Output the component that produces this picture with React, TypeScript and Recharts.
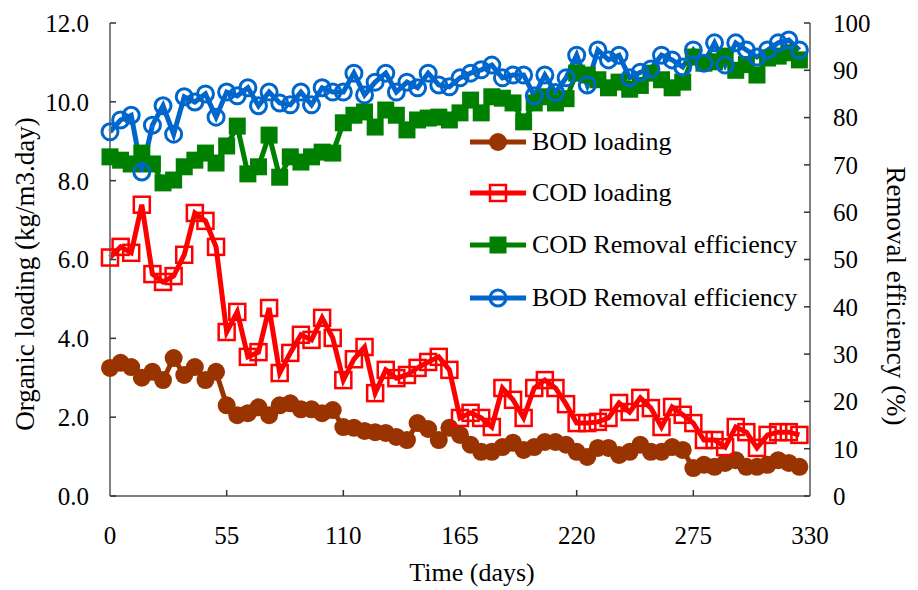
import { LineChart, Line, XAxis, YAxis, Legend } from "recharts";

// sampling days (every 5 days)
const days = [
  0, 5, 10, 15, 20, 25, 30, 35, 40, 45, 50, 55, 60, 65, 70, 75, 80, 85, 90, 95,
  100, 105, 110, 115, 120, 125, 130, 135, 140, 145, 150, 155, 160, 165, 170,
  175, 180, 185, 190, 195, 200, 205, 210, 215, 220, 225, 230, 235, 240, 245,
  250, 255, 260, 265, 270, 275, 280, 285, 290, 295, 300, 305, 310, 315, 320,
  325,
];

// kg/m3.day
const bodLoading = [
  3.25, 3.38, 3.27, 3.0, 3.15, 2.94, 3.5, 3.07, 3.27, 2.94, 3.15, 2.3, 2.05,
  2.1, 2.25, 2.05, 2.3, 2.35, 2.2, 2.2, 2.1, 2.18, 1.75, 1.73, 1.65, 1.62, 1.6,
  1.5, 1.42, 1.85, 1.7, 1.42, 1.73, 1.55, 1.3, 1.12, 1.12, 1.24, 1.35, 1.17,
  1.24, 1.37, 1.37, 1.3, 1.12, 0.99, 1.22, 1.22, 1.04, 1.12, 1.3, 1.12, 1.12,
  1.24, 1.17, 0.71, 0.79, 0.74, 0.84, 0.91, 0.74, 0.74, 0.79, 0.91, 0.84, 0.74,
];

const codLoading = [
  6.05, 6.32, 6.17, 7.39, 5.63, 5.43, 5.58, 6.12, 7.18, 6.98, 6.32, 4.16, 4.67,
  3.53, 3.65, 4.77, 3.12, 3.63, 4.09, 3.96, 4.52, 4.01, 2.94, 3.47, 3.78, 2.61,
  3.2, 2.99, 3.07, 3.25, 3.4, 3.53, 3.2, 1.98, 2.11, 1.98, 1.75, 2.74, 2.44,
  1.98, 2.74, 2.94, 2.74, 2.33, 1.85, 1.85, 1.88, 1.98, 2.36, 2.13, 2.49, 2.23,
  1.75, 2.26, 2.06, 1.85, 1.42, 1.42, 1.24, 1.75, 1.62, 1.22, 1.55, 1.62, 1.62,
  1.55,
];

// %
const codRemoval = [
  71.7, 71.0, 70.2, 72.5, 70.2, 66.2, 66.8, 69.6, 71.0, 72.5, 70.4, 74.0, 78.2,
  68.1, 69.6, 76.3, 67.4, 71.7, 70.6, 71.7, 72.7, 72.5, 78.9, 80.5, 81.2, 78.0,
  81.6, 80.5, 77.4, 79.5, 79.9, 80.1, 79.5, 81.0, 83.7, 81.0, 84.4, 84.1, 83.1,
  79.1, 83.1, 84.4, 83.1, 84.0, 89.4, 89.0, 88.0, 86.3, 87.5, 86.0, 86.8, 89.4,
  88.0, 86.3, 87.5, 92.8, 91.5, 91.8, 93.0, 90.0, 91.2, 89.0, 92.6, 93.0, 93.7,
  92.2,
];

const bodRemoval = [
  77.0, 79.5, 80.5, 68.5, 78.4, 82.5, 76.5, 84.4, 83.3, 85.0, 80.1, 85.4, 84.6,
  86.3, 82.5, 85.4, 83.1, 82.7, 85.4, 82.7, 86.3, 85.4, 85.4, 89.4, 84.8, 87.5,
  89.4, 85.4, 87.5, 86.3, 89.4, 86.9, 86.5, 88.4, 89.4, 90.1, 91.1, 88.4, 89.0,
  89.0, 84.6, 89.0, 85.3, 88.4, 93.2, 86.9, 94.3, 92.2, 93.2, 88.4, 89.6, 90.3,
  93.2, 92.2, 90.7, 94.3, 91.5, 95.8, 91.1, 95.8, 94.3, 92.8, 94.3, 95.8, 96.4,
  94.3,
];

const xTicks = [0, 55, 110, 165, 220, 275, 330];
const leftTicks = [0, 2, 4, 6, 8, 10, 12];
const rightTicks = [0, 10, 20, 30, 40, 50, 60, 70, 80, 90, 100];

const data = days.map((day, i) => ({
  day,
  bodLoading: bodLoading[i],
  codLoading: codLoading[i],
  codRemoval: codRemoval[i],
  bodRemoval: bodRemoval[i],
}));

const FONT = "'Liberation Serif', 'Times New Roman', serif";
const BROWN = "#993300";
const RED = "#ff0000";
const GREEN = "#008000";
const BLUE = "#0066cc";

const tickStyle = { fill: "#000", fontSize: 25, fontFamily: FONT };
const axisLine = { stroke: "#808080", strokeWidth: 2 };
const tickLine = { stroke: "#333", strokeWidth: 1.5 };

function dotBrown(p: any) {
  if (p.cx == null || p.cy == null) return <g key={p.index} />;
  return <circle key={p.index} cx={p.cx} cy={p.cy} r={9} fill={BROWN} />;
}
function dotRed(p: any) {
  if (p.cx == null || p.cy == null) return <g key={p.index} />;
  return (
    <rect key={p.index} x={p.cx - 8} y={p.cy - 8} width={16} height={16}
      fill="none" stroke={RED} strokeWidth={2.5} />
  );
}
function dotGreen(p: any) {
  if (p.cx == null || p.cy == null) return <g key={p.index} />;
  return (
    <rect key={p.index} x={p.cx - 8.5} y={p.cy - 8.5} width={17} height={17}
      fill={GREEN} />
  );
}
function dotBlue(p: any) {
  if (p.cx == null || p.cy == null) return <g key={p.index} />;
  return (
    <circle key={p.index} cx={p.cx} cy={p.cy} r={8} fill="none"
      stroke={BLUE} strokeWidth={3} />
  );
}

const legendItems = [
  { name: "BOD loading", color: BROWN, mark: "circleFill" },
  { name: "COD loading", color: RED, mark: "square" },
  { name: "COD Removal efficiency", color: GREEN, mark: "squareFill" },
  { name: "BOD Removal efficiency", color: BLUE, mark: "circle" },
];

function LegendBox() {
  return (
    <div style={{ fontFamily: FONT, fontSize: 26, color: "#000" }}>
      {legendItems.map((it, i) => (
        <div key={it.name}
          style={{ display: "flex", alignItems: "center", height: i === 2 ? 54 : 51 }}>
          <svg width={62} height={26} style={{ flex: "none" }}>
            <line x1={2} y1={13} x2={58} y2={13} stroke={it.color} strokeWidth={5} />
            {it.mark === "circleFill" && <circle cx={30} cy={13} r={9} fill={it.color} />}
            {it.mark === "square" && (
              <rect x={22} y={5} width={16} height={16} fill="none" stroke={it.color} strokeWidth={2.5} />
            )}
            {it.mark === "squareFill" && <rect x={21.5} y={4.5} width={17} height={17} fill={it.color} />}
            {it.mark === "circle" && (
              <circle cx={30} cy={13} r={8} fill="none" stroke={it.color} strokeWidth={3} />
            )}
          </svg>
          <span style={{ whiteSpace: "nowrap", marginLeft: 2 }}>{it.name}</span>
        </div>
      ))}
    </div>
  );
}

export default function App() {
  return (
    <div style={{ position: "absolute", left: 0, top: 0, width: 918, height: 590, background: "#fff" }}>
      <LineChart width={918} height={590} data={data}
        margin={{ top: 23, right: 0, bottom: 0, left: 0 }}
        style={{ fontFamily: FONT }}>
        <XAxis dataKey="day" type="number" domain={[0, 330]} ticks={xTicks}
          height={94} axisLine={axisLine} tickLine={tickLine} tickSize={-6}
          tickMargin={36} tick={tickStyle} interval={0}
          label={{
            content: () => (
              <text x={472} y={581} textAnchor="middle" fontSize={26}
                fontFamily={FONT} fill="#000">Time (days)</text>
            ),
          }} />
        <YAxis yAxisId="left" orientation="left" domain={[0, 12]} ticks={leftTicks}
          width={110} axisLine={axisLine} tickLine={tickLine} tickSize={-6}
          tickMargin={27} tick={tickStyle} interval={0}
          tickFormatter={(v: number) => v.toFixed(1)}
          label={{
            content: () => (
              <text x={25} y={274} textAnchor="middle" dominantBaseline="central"
                fontSize={27} fontFamily={FONT} fill="#000"
                transform="rotate(-90 25 274)">Organic loading (kg/m3.day)</text>
            ),
          }} />
        <YAxis yAxisId="right" orientation="right" domain={[0, 100]} ticks={rightTicks}
          width={108} axisLine={axisLine} tickLine={tickLine} tickSize={-6}
          tickMargin={29} tick={tickStyle} interval={0}
          label={{
            content: () => (
              <text x={896} y={296} textAnchor="middle" dominantBaseline="central"
                fontSize={27} fontFamily={FONT} fill="#000"
                transform="rotate(90 896 296)">Removal efficiency (%)</text>
            ),
          }} />
        <Legend layout="vertical" align="center" verticalAlign="middle"
          content={() => <LegendBox />}
          wrapperStyle={{ left: 468, top: 116, width: 380 }} />
        <Line yAxisId="right" dataKey="codRemoval" name="COD Removal efficiency"
          stroke={GREEN} strokeWidth={5} dot={dotGreen} activeDot={false}
          isAnimationActive={false} />
        <Line yAxisId="right" dataKey="bodRemoval" name="BOD Removal efficiency"
          stroke={BLUE} strokeWidth={5} dot={dotBlue} activeDot={false}
          isAnimationActive={false} />
        <Line yAxisId="left" dataKey="bodLoading" name="BOD loading"
          stroke={BROWN} strokeWidth={5} dot={dotBrown} activeDot={false}
          isAnimationActive={false} />
        <Line yAxisId="left" dataKey="codLoading" name="COD loading"
          stroke={RED} strokeWidth={5} dot={dotRed} activeDot={false}
          isAnimationActive={false} />
      </LineChart>
    </div>
  );
}
